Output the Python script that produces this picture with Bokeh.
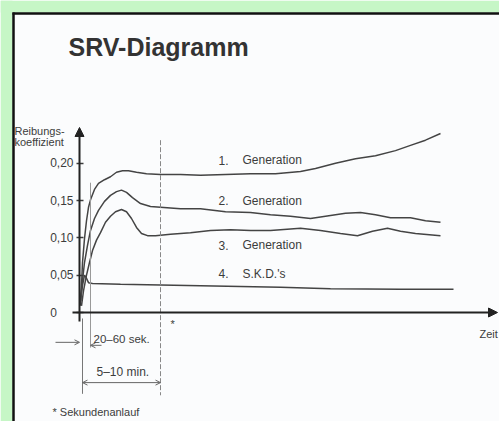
from bokeh.plotting import figure
from bokeh.models import (Range1d, LinearAxis, FixedTicker, Label, Arrow,
                          NormalHead, OpenHead)
from bokeh.embed import file_html
from bokeh.resources import INLINE

# ---- data (time in arbitrary units, friction coefficient) ----
t1 = [1, 2, 3, 5, 7, 9, 11, 15, 19, 25, 31, 37, 43, 49, 57, 67, 81, 101, 121,
      146, 171, 196, 221, 236, 256, 276, 296, 316, 331, 346, 361]
mu1 = [0.009, 0.036, 0.067, 0.099, 0.123, 0.141, 0.151, 0.165, 0.173, 0.178,
       0.182, 0.188, 0.190, 0.190, 0.188, 0.186, 0.185, 0.185, 0.184, 0.185,
       0.186, 0.186, 0.189, 0.193, 0.200, 0.206, 0.210, 0.217, 0.224, 0.231,
       0.240]
t2 = [1, 3, 5, 8, 11, 15, 19, 25, 31, 37, 42, 47, 53, 61, 71, 81, 101, 121,
      146, 171, 191, 211, 231, 246, 266, 281, 296, 311, 331, 346, 361]
mu2 = [0.016, 0.043, 0.067, 0.090, 0.110, 0.126, 0.137, 0.149, 0.157, 0.162,
       0.164, 0.161, 0.154, 0.146, 0.142, 0.141, 0.139, 0.139, 0.135, 0.134,
       0.131, 0.129, 0.126, 0.129, 0.133, 0.134, 0.131, 0.127, 0.127, 0.123,
       0.121]
t3 = [2, 4, 7, 10, 13, 17, 21, 26, 31, 36, 42, 47, 52, 57, 62, 68, 76, 91,
      111, 131, 151, 171, 191, 221, 241, 261, 278, 293, 308, 321, 336, 361]
mu3 = [0.009, 0.029, 0.050, 0.067, 0.083, 0.097, 0.107, 0.121, 0.129, 0.135,
       0.138, 0.135, 0.126, 0.114, 0.106, 0.103, 0.103, 0.105, 0.107, 0.110,
       0.111, 0.110, 0.110, 0.113, 0.110, 0.106, 0.103, 0.109, 0.113, 0.109,
       0.106, 0.103]
t4 = [1, 3, 5, 7, 9, 13, 41, 121, 201, 251, 321, 374]
mu4 = [0.016, 0.036, 0.050, 0.046, 0.040, 0.039, 0.038, 0.036, 0.034, 0.032,
       0.031, 0.031]

y_ticks = [0, 0.05, 0.10, 0.15, 0.20]
y_tick_labels = ["0\u2007\u2007\u2008", "0,05", "0,10", "0,15", "0,20"]

curve_nums = ["1.", "2.", "3.", "4."]
curve_names = ["Generation", "Generation", "Generation", "S.K.D.'s"]
curve_label_mu = [0.204, 0.150, 0.090, 0.052]

mark_sek = [0, 11]      # 20-60 sek. interval
mark_min = [3, 81]      # 5-10 min. interval

GREEN = "#c6f6c6"
PAPER = "#fbfcfd"
INK = "#3c3c3c"
FONT = "Liberation Sans"

# 1 x-unit = 1 px, y scale 746 px per unit of friction coefficient
X0, X1 = -79, 420
Y0, Y1 = -109 / 746, 312 / 746
PX = 1.0
PY = 1 / 746

p = figure(frame_width=499, frame_height=421, output_backend="svg",
           toolbar_location=None, x_axis_type=None, y_axis_type=None,
           x_range=Range1d(X0, X1), y_range=Range1d(Y0, Y1),
           min_border=0, border_fill_color=PAPER,
           background_fill_color=PAPER, outline_line_color=None)

# green surround (left and top) and the black edge of the pasted page
p.quad(left=[X0, X0], right=[X0 + 12 * PX, X1], bottom=[Y0, Y1 - 12 * PY],
       top=[Y1, Y1], fill_color=GREEN, line_color=None)
p.segment(x0=[X0 + 13 * PX, X0 + 12 * PX], y0=[Y0, Y1 - 13 * PY],
          x1=[X0 + 13 * PX, X1], y1=[Y1 - 12 * PY, Y1 - 13 * PY],
          line_color="#111", line_width=2.5)

# y axis through the origin
yax = LinearAxis(fixed_location=0, ticker=FixedTicker(ticks=y_ticks),
                 major_label_overrides=dict(zip(y_ticks, y_tick_labels)),
                 axis_line_color=None, major_tick_in=4, major_tick_out=3,
                 major_tick_line_color=INK, major_tick_line_width=1.3,
                 minor_tick_line_color=None, major_label_standoff=3,
                 major_label_text_font=FONT, major_label_text_font_size="12px",
                 major_label_text_color=INK)
p.add_layout(yax, "left")

# axis lines with arrow heads
p.add_layout(Arrow(x_start=0, y_start=-0.012, x_end=0, y_end=0.248,
                   line_width=2, line_color="#222",
                   end=NormalHead(size=9, fill_color="#222", line_color="#222")))
p.add_layout(Arrow(x_start=-7, y_start=0, x_end=418, y_end=0,
                   line_width=2, line_color="#222",
                   end=NormalHead(size=9, fill_color="#222", line_color="#222")))

# curves
for t, m in [(t1, mu1), (t2, mu2), (t3, mu3), (t4, mu4)]:
    p.line(t, m, line_color="#444", line_width=1.5)

# reference lines
p.segment(x0=[mark_sek[1]], y0=[0.174], x1=[mark_sek[1]], y1=[-0.047],
          line_color="#999", line_width=1)
p.segment(x0=[mark_min[0]], y0=[-0.008], x1=[mark_min[0]], y1=[-0.109],
          line_color="#777", line_width=1)
p.segment(x0=[mark_min[1]], y0=[0.231], x1=[mark_min[1]], y1=[-0.111],
          line_color="#888", line_width=1, line_dash="5 2")

# dimension arrows
p.add_layout(Arrow(x_start=-24, y_start=-0.040, x_end=mark_sek[0], y_end=-0.040,
                   line_width=1, line_color="#666",
                   end=OpenHead(size=5, line_color="#666", line_width=1)))
p.add_layout(Arrow(x_start=22, y_start=-0.044, x_end=mark_sek[1], y_end=-0.044,
                   line_width=1, line_color="#666",
                   end=OpenHead(size=5, line_color="#666", line_width=1)))
p.add_layout(Arrow(x_start=mark_min[0], y_start=-0.094, x_end=mark_min[1],
                   y_end=-0.094, line_width=1, line_color="#666",
                   start=OpenHead(size=5, line_color="#666", line_width=1),
                   end=OpenHead(size=5, line_color="#666", line_width=1)))


def lab(x, y, text, size="11px", style="normal", color=INK, align="left"):
    p.add_layout(Label(x=x, y=y, text=text, text_font=FONT, text_font_size=size,
                       text_font_style=style, text_color=color,
                       text_align=align, text_baseline="middle"))


lab(-11, 0.356, "SRV-Diagramm", size="25px", style="bold", color="#333")
lab(-65, 0.243, "Reibungs-", size="11px")
lab(-65, 0.229, "koeffizient", size="11px")

for num, name, m in zip(curve_nums, curve_names, curve_label_mu):
    lab(139, m, num, size="12px")
    lab(163, m, name, size="12px")

lab(14, -0.035, "20–60 sek.", size="11.5px")
lab(17, -0.080, "5–10 min.", size="12px")
lab(91, -0.015, "*", size="11px")
lab(-27, -0.134, "* Sekundenanlauf", size="11px")
lab(400, -0.029, "Zeit", size="11px")

open("out.html", "w").write(file_html(p, INLINE))
